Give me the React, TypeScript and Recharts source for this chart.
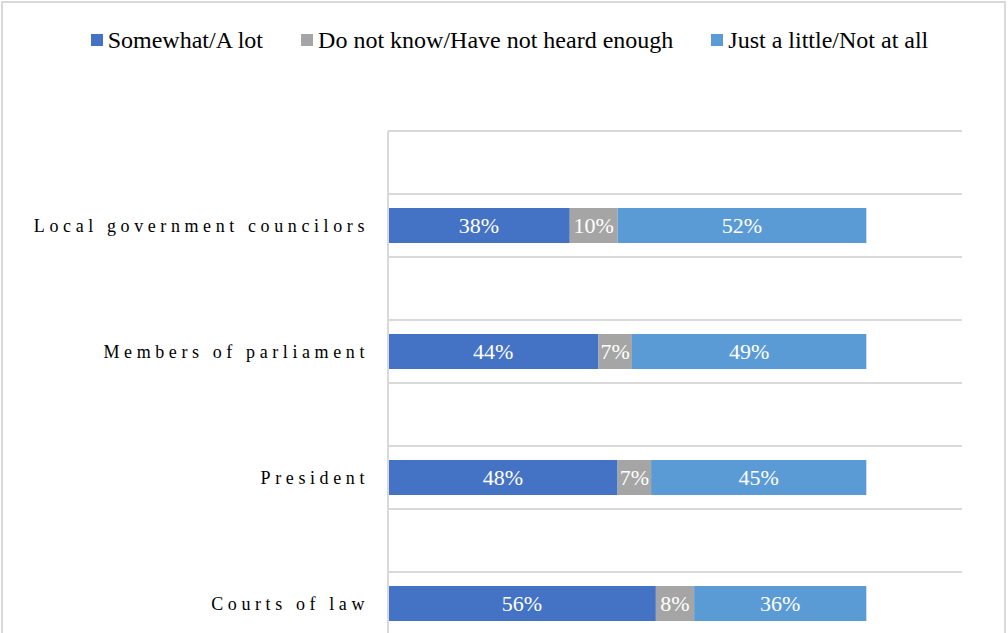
import React from "react";
import { BarChart, Bar, XAxis, YAxis, CartesianGrid, Legend, LabelList } from "recharts";

const categories = ["", "Local government councilors", "", "Members of parliament", "", "President", "", "Courts of law"];
const somewhat = [null, 38, null, 44, null, 48, null, 56];
const dontKnow = [null, 10, null, 7, null, 7, null, 8];
const little = [null, 52, null, 49, null, 45, null, 36];

const seriesKeys = ["somewhat", "dontKnow", "little"];
const seriesNames = ["Somewhat/A lot", "Do not know/Have not heard enough", "Just a little/Not at all"];
const colors = ["#4472C4", "#A5A5A5", "#5B9BD5"];

const data = categories.map((name, i) => ({
  name,
  somewhat: somewhat[i],
  dontKnow: dontKnow[i],
  little: little[i],
}));

const FONT = "'Liberation Serif', 'Times New Roman', serif";

const CatTick = (props: any) => {
  const { x, y, payload } = props;
  return (
    <text
      x={x}
      y={y}
      dy={6}
      textAnchor="end"
      fill="#000"
      fontFamily={FONT}
      fontSize={18}
      style={{ letterSpacing: "4.6px", fontFamily: FONT }}
    >
      {payload.value}
    </text>
  );
};

const LegendContent = (props: any) => {
  const { payload } = props;
  const items = seriesNames
    .map((n) => (payload || []).find((p: any) => p.value === n))
    .filter(Boolean);
  return (
    <div style={{ display: "flex", justifyContent: "center", paddingLeft: 11, fontFamily: FONT, fontSize: 24, color: "#000", lineHeight: "28px" }}>
      {items.map((p: any, i: number) => (
        <div key={i} style={{ display: "flex", alignItems: "center", marginLeft: i === 0 ? 0 : 38 }}>
          <span style={{ display: "inline-block", width: 12, height: 12, background: p.color, marginRight: 5 }} />
          <span>{p.value}</span>
        </div>
      ))}
    </div>
  );
};

const pct = (v: any) => (v == null ? "" : `${v}%`);

const BarLabel = (props: any) => {
  const { x, y, width, height, value } = props;
  if (value == null) return null;
  return (
    <text
      x={x + width / 2}
      y={y + height / 2}
      dy={7}
      textAnchor="middle"
      fill="#fff"
      fontSize={22}
      style={{ fontFamily: FONT }}
    >
      {pct(value)}
    </text>
  );
};

export default function App() {
  return (
    <div style={{ position: "absolute", left: 0, top: 0, width: 1008, height: 633, overflow: "hidden", background: "#fff" }}>
      <div
        style={{
          position: "absolute",
          left: 1,
          top: 1,
          width: 1005,
          height: 700,
          border: "2px solid #d9d9d9",
          boxSizing: "border-box",
        }}
      />
      <div style={{ position: "absolute", left: 0, top: 0 }}>
        <BarChart
          width={1008}
          height={645}
          data={data}
          layout="vertical"
          margin={{ top: 103, right: 46, bottom: 10, left: 0 }}
          barSize={35}
        >
          <CartesianGrid
            vertical={false}
            stroke="#d9d9d9"
            strokeWidth={2}
            horizontalCoordinatesGenerator={({ offset }: any) =>
              Array.from({ length: categories.length + 1 }, (_, i) => offset.top + (i * offset.height) / categories.length)
            }
          />
          <XAxis type="number" domain={[0, 120]} hide />
          <YAxis
            type="category"
            dataKey="name"
            width={388}
            axisLine={{ stroke: "#d9d9d9", strokeWidth: 2 }}
            tickLine={false}
            tickMargin={13}
            tick={<CatTick />}
            interval={0}
          />
          <Legend
            verticalAlign="top"
            align="center"
            wrapperStyle={{ top: 26, left: 0, width: 1008 }}
            content={<LegendContent />}
          />
          {seriesKeys.map((k, i) => (
            <Bar key={k} dataKey={k} name={seriesNames[i]} stackId="a" fill={colors[i]} isAnimationActive={false}>
              <LabelList dataKey={k} content={<BarLabel />} />
            </Bar>
          ))}
        </BarChart>
      </div>
    </div>
  );
}
